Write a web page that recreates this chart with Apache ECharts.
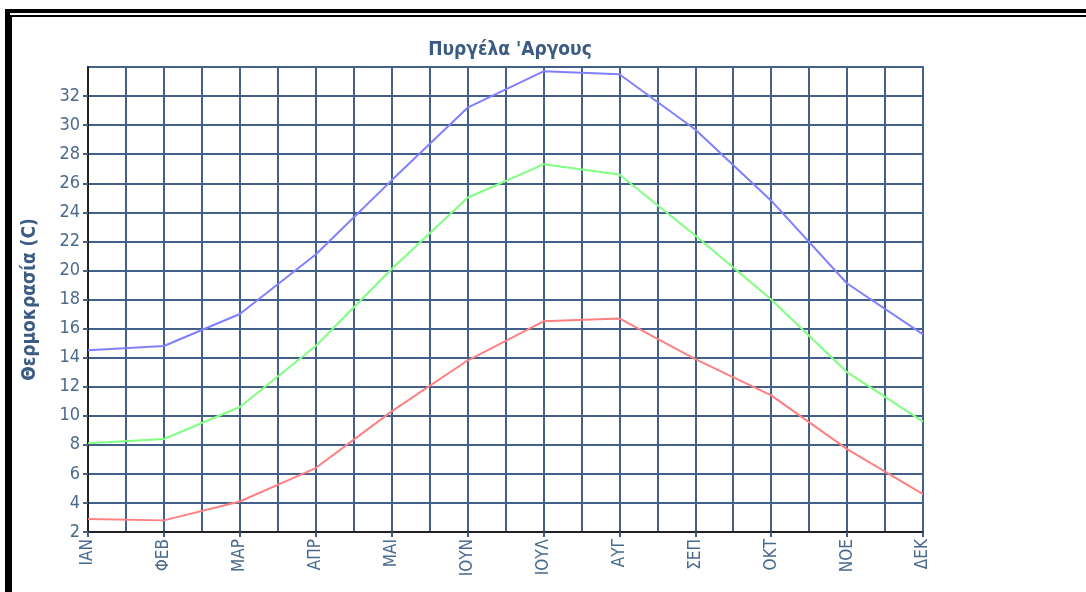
<!DOCTYPE html>
<html>
<head>
<meta charset="utf-8">
<script src="https://cdn.jsdelivr.net/npm/echarts@6/dist/echarts.min.js"></script>
<style>
  html, body { margin: 0; padding: 0; background: #fff; }
  #wrap { position: relative; width: 1086px; height: 592px; overflow: hidden; background: #fff; }
  #chart { position: absolute; left: 0; top: 0; width: 1086px; height: 592px; }
  .b1 { position: absolute; left: 5px; top: 9px; width: 1200px; height: 700px; border-top: 4px solid #000; border-left: 5px solid #000; }
  .b2 { position: absolute; left: 10px; top: 15px; width: 1200px; height: 700px; border-top: 2px solid #000; border-left: 2px solid #000; }
</style>
</head>
<body>
<div id="wrap">
  <div id="chart"></div>
  <div class="b1"></div>
  <div class="b2"></div>
</div>
<script>
const titleText = "Πυργέλα 'Αργους";
const yAxisName = "Θερμοκρασία (C)";
const months = ["ΙΑΝ", "ΦΕΒ", "ΜΑΡ", "ΑΠΡ", "ΜΑΙ", "ΙΟΥΝ", "ΙΟΥΛ", "ΑΥΓ", "ΣΕΠ", "ΟΚΤ", "ΝΟΕ", "ΔΕΚ"];
const tMax  = [14.5, 14.8, 17.0, 21.1, 26.2, 31.2, 33.7, 33.5, 29.7, 24.8, 19.1, 15.6];
const tMean = [8.1, 8.4, 10.6, 14.8, 20.1, 25.0, 27.3, 26.6, 22.4, 18.0, 13.0, 9.6];
const tMin  = [2.9, 2.8, 4.1, 6.4, 10.3, 13.8, 16.5, 16.7, 13.9, 11.4, 7.7, 4.6];

const toPairs = arr => arr.map((v, i) => [i, v]);
const gridColor = '#42608a';
const textColor = '#4a6a8e';
const condensed = "'DejaVu Sans Condensed', 'Liberation Sans Narrow', 'DejaVu Sans'";

const chart = echarts.init(document.getElementById('chart'), null, { renderer: 'canvas' });
chart.setOption({
  animation: false,
  backgroundColor: '#fff',
  title: {
    text: titleText,
    left: 505, textAlign: 'center', top: 36,
    textStyle: { fontFamily: condensed, fontWeight: 'bold', fontSize: 19, color: '#3b5b82' }
  },
  grid: {
    left: 88, top: 67, right: 163, bottom: 60,
    show: true, borderColor: '#222', borderWidth: 1.5, backgroundColor: '#fff'
  },
  xAxis: {
    type: 'value', min: 0, max: 11, interval: 1,
    axisLine: { show: true, onZero: false, lineStyle: { color: '#222', width: 2 } },
    axisTick: { show: true, length: 5, lineStyle: { color: gridColor, width: 2 } },
    minorTick: { show: false, splitNumber: 2 },
    minorSplitLine: { show: true, lineStyle: { color: gridColor, width: 2 } },
    splitLine: { show: true, lineStyle: { color: gridColor, width: 2 } },
    axisLabel: {
      rotate: 90, margin: 7,
      fontFamily: condensed, fontSize: 17, color: textColor,
      formatter: v => (Number.isInteger(v) ? months[v] : '')
    }
  },
  yAxis: {
    type: 'value', min: 2, max: 34, interval: 2,
    name: yAxisName, nameLocation: 'middle', nameGap: 48, nameRotate: 90,
    nameTextStyle: { fontFamily: condensed, fontWeight: 'bold', fontSize: 19, color: '#3b5b82' },
    axisLine: { show: true, lineStyle: { color: '#222', width: 2 } },
    axisTick: { show: true, length: 5, lineStyle: { color: gridColor, width: 2 } },
    splitLine: { show: true, lineStyle: { color: gridColor, width: 2 } },
    axisLabel: {
      showMaxLabel: false, margin: 8,
      fontFamily: condensed, fontSize: 18, color: textColor
    }
  },
  series: [
    { type: 'line', data: toPairs(tMax), symbol: 'none', lineStyle: { color: '#8080ff', width: 2 }, z: 5 },
    { type: 'line', data: toPairs(tMean), symbol: 'none', lineStyle: { color: '#80ff80', width: 2 }, z: 5 },
    { type: 'line', data: toPairs(tMin), symbol: 'none', lineStyle: { color: '#ff8080', width: 2 }, z: 5 }
  ]
});
</script>
</body>
</html>
